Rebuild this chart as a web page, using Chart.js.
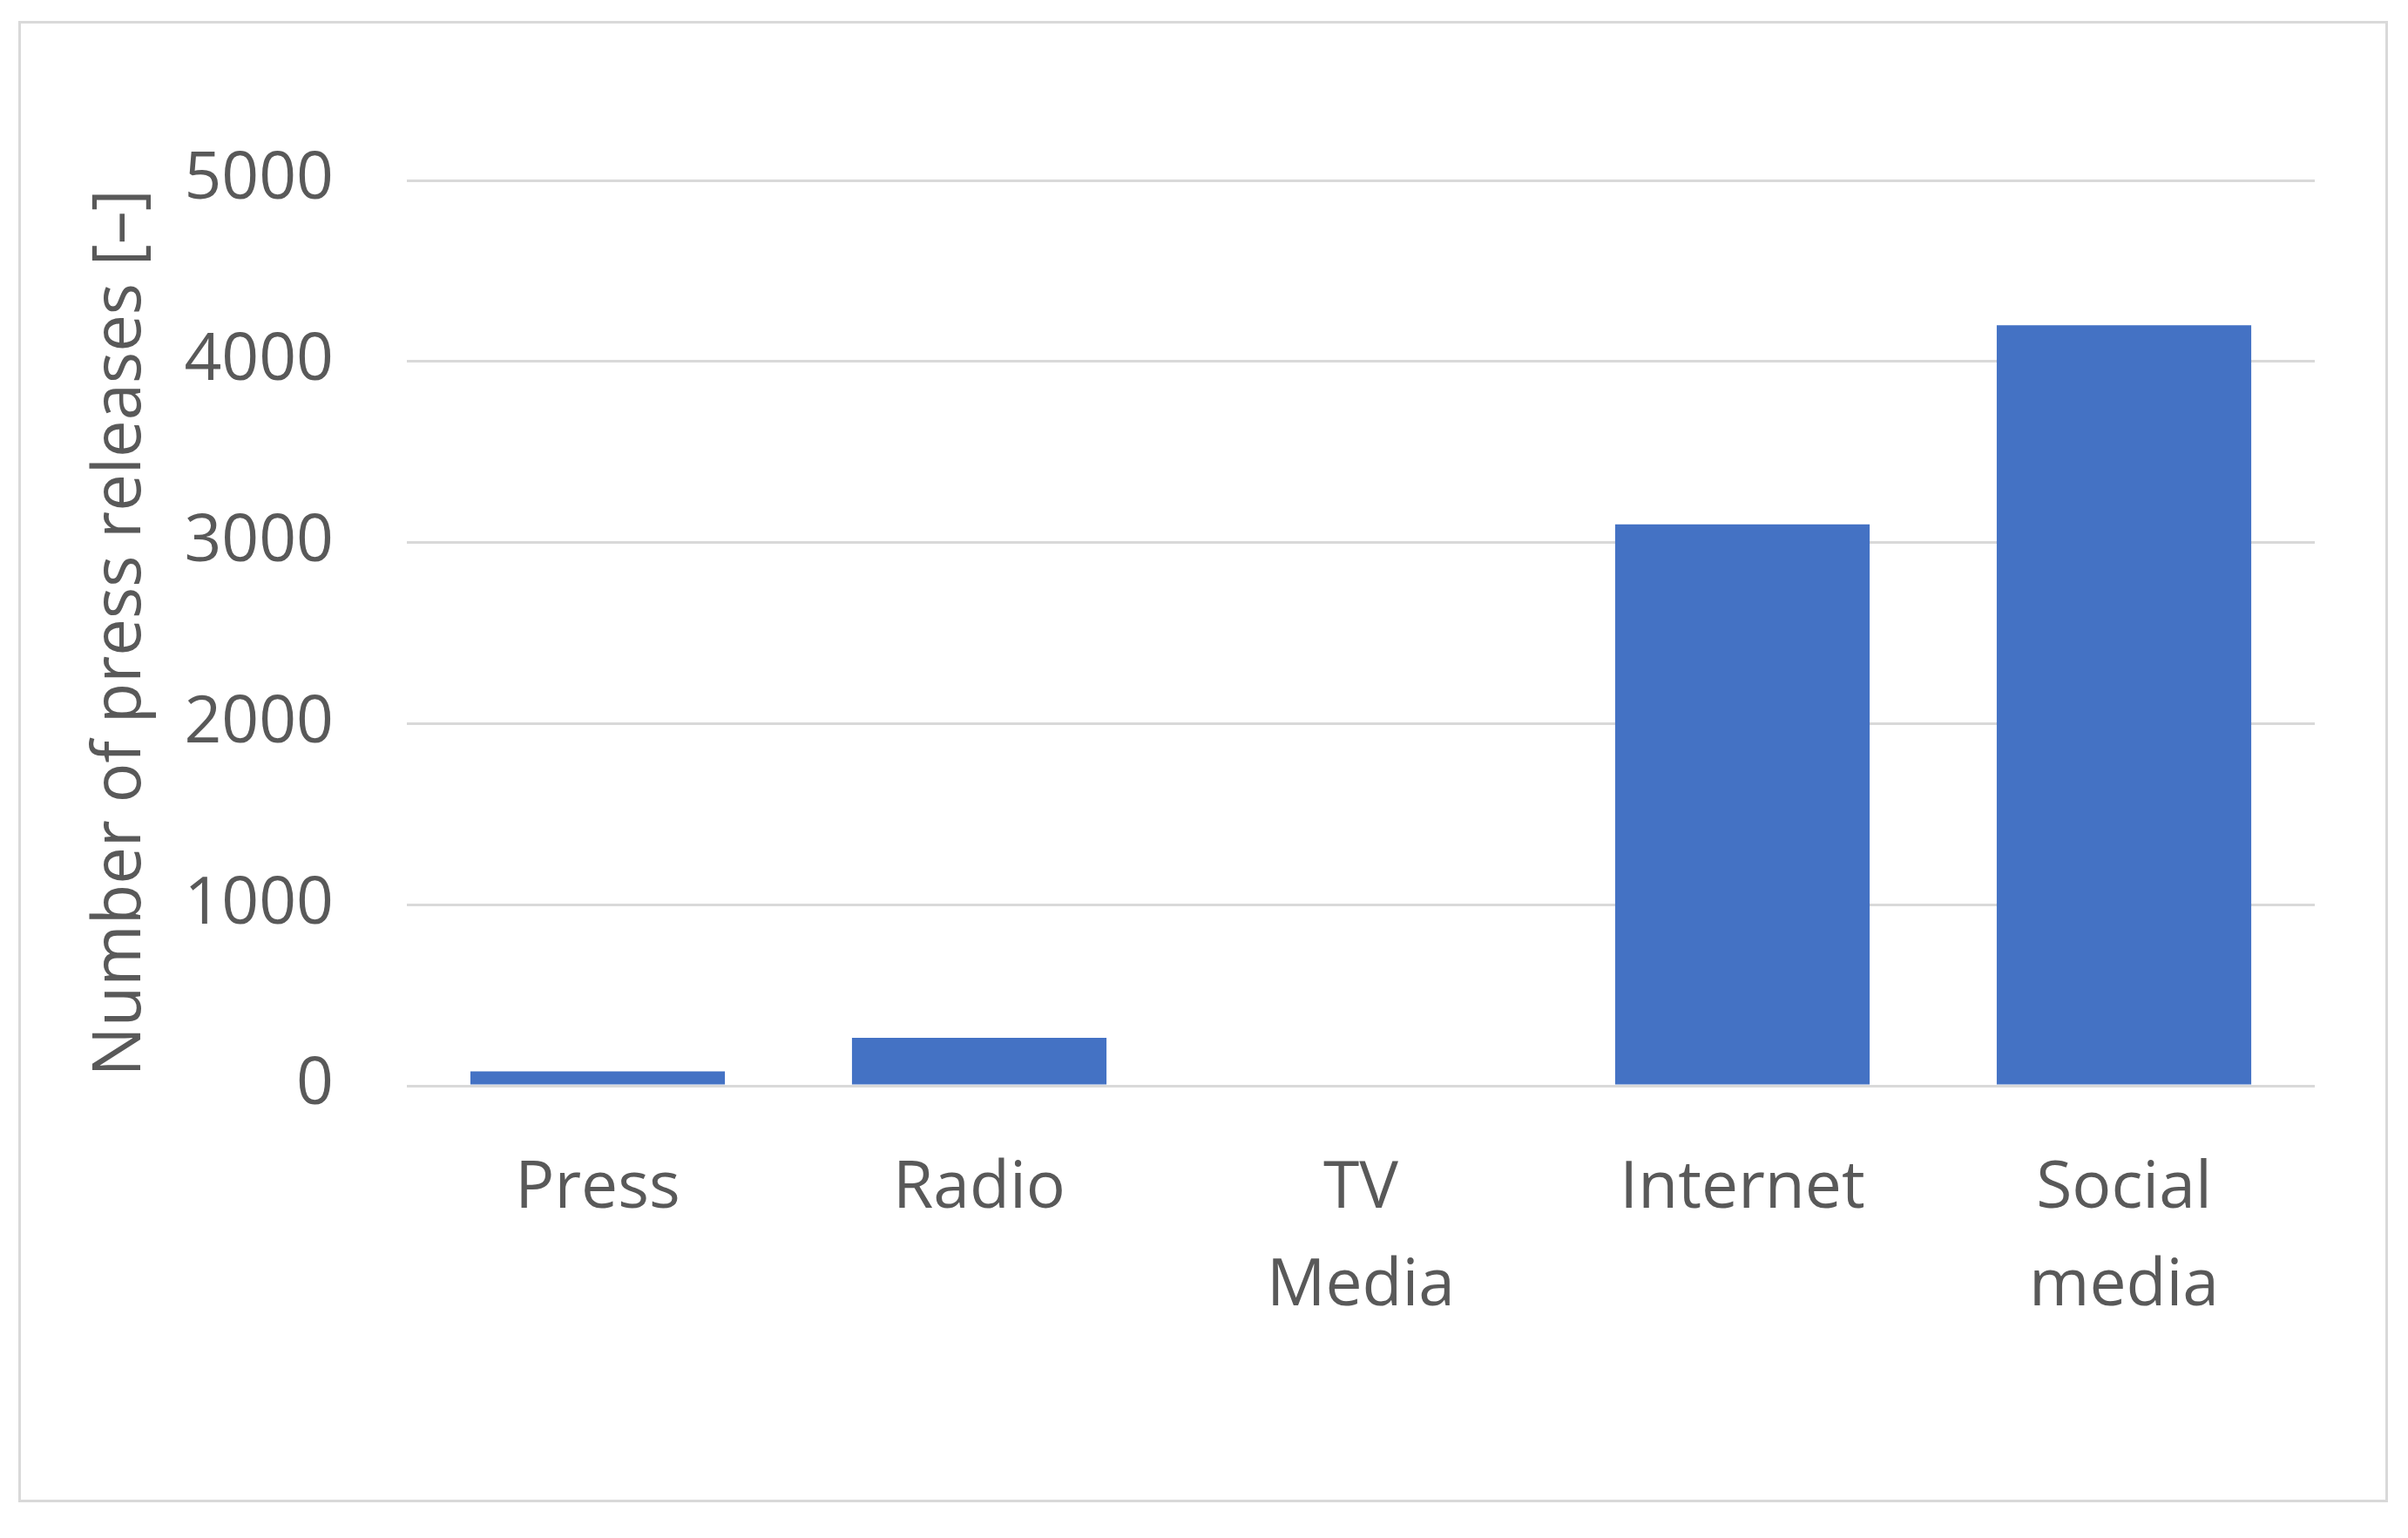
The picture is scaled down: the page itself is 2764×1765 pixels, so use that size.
<!DOCTYPE html>
<html>
<head>
<meta charset="utf-8">
<script src="https://cdn.jsdelivr.net/npm/chart.js@4"></script>
<style>
  body { margin: 0; background: #fff; }
  .frame {
    position: absolute;
    left: 21px; top: 24px;
    width: 2714px; height: 1694px;
    border: 3px solid #d9d9d9;
  }
</style>
</head>
<body>
<div class="frame"><canvas id="chart"></canvas></div>
<script>
const categories = ['Press', 'Radio', ['TV', 'Media'], 'Internet', ['Social', 'media']];
const releases = [80, 265, 0, 3100, 4200];
const yTicks = [0, 1000, 2000, 3000, 4000, 5000];

const textColor = '#595959';
const gridColor = '#d9d9d9';
const fontFamily = '"Open Sans", "Noto Sans", sans-serif';

new Chart(document.getElementById('chart'), {
    type: 'bar',
    data: {
        labels: categories,
        datasets: [{
            data: releases,
            backgroundColor: '#4472c4',
            barPercentage: 0.667,
            categoryPercentage: 1
        }]
    },
    options: {
        responsive: true,
        maintainAspectRatio: false,
        animation: false,
        layout: { padding: { left: 0, right: 81, top: 180, bottom: 0 } },
        plugins: {
            legend: { display: false },
            tooltip: { enabled: false }
        },
        scales: {
            x: {
                afterFit: s => { s.height = 475; },
                grid: { display: false },
                border: { display: false },
                ticks: {
                    color: textColor,
                    padding: 54,
                    maxRotation: 0,
                    autoSkip: false,
                    font: { family: fontFamily, size: 75, lineHeight: 1.5 }
                }
            },
            y: {
                min: 0,
                max: 5000,
                afterFit: s => { s.width = 443; },
                afterBuildTicks: s => { s.ticks = yTicks.map(v => ({ value: v })); },
                grid: { color: gridColor, lineWidth: 3, drawTicks: false },
                border: { display: false },
                ticks: {
                    color: textColor,
                    padding: 84,
                    callback: v => String(v),
                    font: { family: fontFamily, size: 75 }
                },
                title: {
                    display: true,
                    text: 'Number of press releases [–]',
                    color: textColor,
                    padding: { top: 70, bottom: 0 },
                    font: { family: fontFamily, size: 76, lineHeight: 1.2 }
                }
            }
        }
    }
});
</script>
</body>
</html>
